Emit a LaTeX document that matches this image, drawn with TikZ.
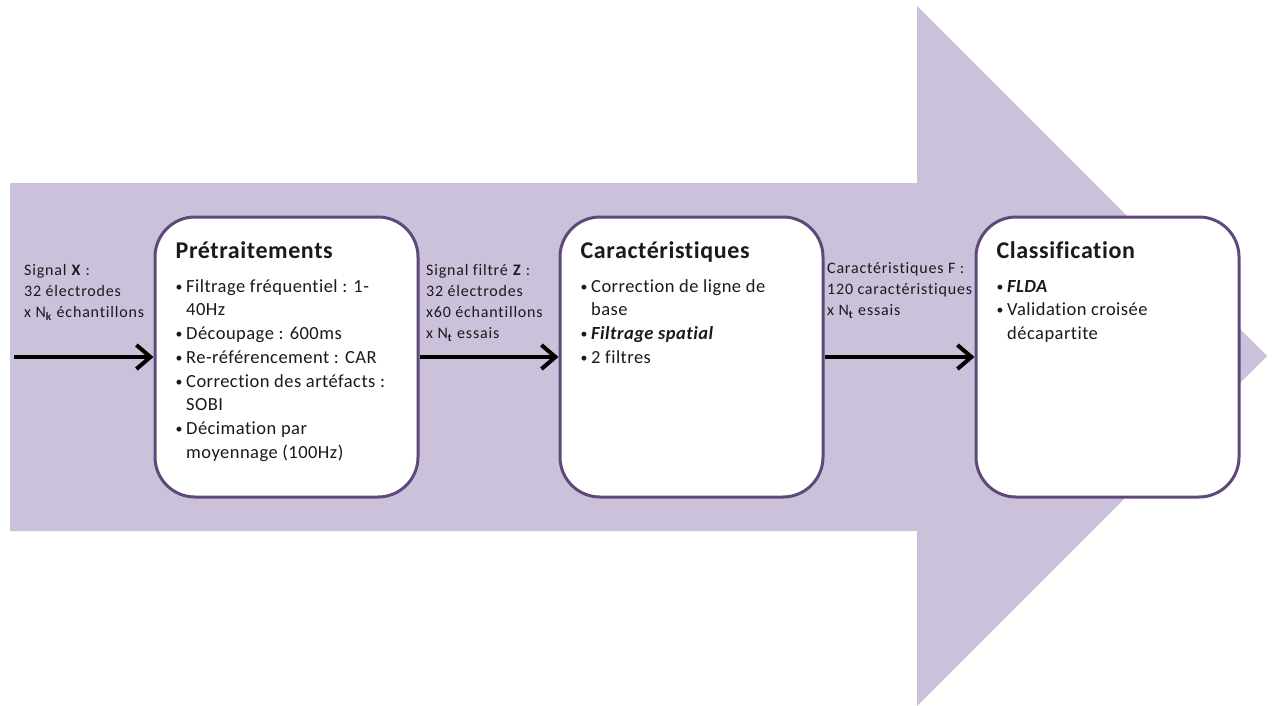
\documentclass[tikz,border=0pt]{standalone}
\usepackage{fontspec}
\setmainfont{Carlito}[LetterSpace=2.5,Ligatures=NoCommon]
\newfontfamily\lblfont{Carlito}[LetterSpace=5,Ligatures=NoCommon]
\usetikzlibrary{arrows.meta}
\definecolor{lav}{HTML}{CCC1DA}
\definecolor{pborder}{HTML}{5F497A}
\definecolor{txt}{HTML}{1A1A1A}
\newcommand{\itm}{\makebox[10.5pt][l]{\raisebox{1pt}{\scalebox{0.75}{•}}}}
\newcommand{\ind}{\hspace*{10.5pt}}
\begin{document}
\begin{tikzpicture}[x=1pt,y=-1pt,
  stagebox/.style={draw=pborder,line width=3pt,fill=white,rounded corners=40pt,minimum width=263pt,minimum height=280pt,inner sep=0},
  boxtext/.style={anchor=north west,inner sep=0,align=left,font=\fontsize{18.5}{23.7}\selectfont,text=txt},
  lbl/.style={anchor=north west,inner sep=0,align=left,font=\lblfont\fontsize{16}{21.2}\selectfont,text=txt},
  flow/.style={line width=4pt,-{Straight Barb[length=14pt,width=24pt]}}]
\useasboundingbox (0,0) rectangle (1273,706);
% big background arrow
\fill[lav] (10,183) -- (917,183) -- (917,6) -- (1267,356) -- (917,706) -- (917,531) -- (10,531) -- cycle;
% boxes
\node[stagebox] (b1) at (286.5,357) {};
\node[stagebox] (b2) at (691.5,357) {};
\node[stagebox] (b3) at (1107.5,357) {};
% box texts
\node[boxtext] (t1) at ([xshift=22pt,yshift=-26pt]b1.north west) {{\fontsize{24}{26}\selectfont\bfseries Prétraitements}\\[10pt]
\itm Filtrage fréquentiel : 1-\\
\ind 40Hz\\
\itm Découpage : 600ms\\
\itm Re-référencement : CAR\\
\itm Correction des artéfacts :\\
\ind SOBI\\
\itm Décimation  par\\
\ind moyennage (100Hz)};
\node[boxtext] (t2) at ([xshift=22pt,yshift=-26pt]b2.north west) {{\fontsize{24}{26}\selectfont\bfseries Caractéristiques}\\[10pt]
\itm Correction de ligne de\\
\ind base\\
\itm\textbf{\textit{Filtrage spatial}}\\
\itm 2 filtres};
\node[boxtext] (t3) at ([xshift=22pt,yshift=-26pt]b3.north west) {{\fontsize{24}{26}\selectfont\bfseries Classification}\\[10pt]
\itm\textbf{\textit{FLDA}}\\
\itm Validation croisée\\
\ind décapartite};
% labels
\node[lbl] (l1) at (24,264) {Signal \textbf{X} :\\32 électrodes\\x N\textsubscript{\textbf{k}} échantillons};
\node[lbl] (l2) at (426,264) {Signal filtré \textbf{Z} :\\32 électrodes\\x60 échantillons\\x N\textsubscript{\textbf{t}} essais};
\node[lbl] (l3) at (827,262) {Caractéristiques F :\\120 caractéristiques\\x N\textsubscript{\textbf{t}} essais};
% arrows
\coordinate (start) at (14,357);
\draw[flow] (start) -- (b1.west);
\draw[flow] (b1.east) -- (b2.west);
\draw[flow] (b2.east) -- (b3.west);
\end{tikzpicture}
\end{document}
